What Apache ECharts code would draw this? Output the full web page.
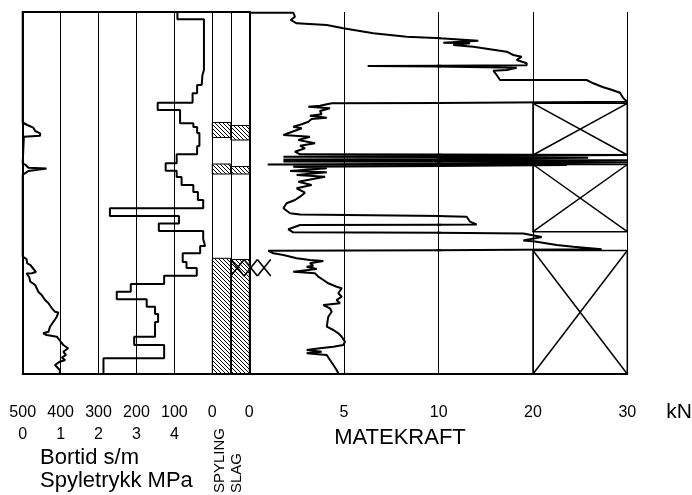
<!DOCTYPE html>
<html><head><meta charset="utf-8">
<script src="https://cdn.jsdelivr.net/npm/echarts@6/dist/echarts.min.js"></script>
<style>html,body{margin:0;padding:0;background:#fff}#c{width:692px;height:495px}</style>
</head><body><div id="c"></div>
<script>
// ---- data (depth in m, top = 0) ----
const bortidDepth = [0,0.73,5.8,6.3,7.3,8.13,9.07,9.8,11.13,11.5,12.1,13.4,14.23,15.13,15.87,16.5,17.3,18.0,18.8,19.63,20.4,21.15,21.9,22.7,23.4,24.13,25.0,25.6,26.37,27.2,27.97,28.73,29.47,30.2,31.0,32.47,33.3,34.63,36.2];
const bortidValue = [92,22,26,28,40,52,144,85,50,40,34,40,94,123,94,81,50,38,24,270,88,141,24,19,32,78,68,41,127,215,252,173,151,143,151,206,127,287];

const spyleDepth = [0,11.05,11.3,11.57,11.9,12.13,12.37,12.47,12.5,15.13,15.3,15.57,15.65,15.85,15.9,16.13,16.3,24.47,24.7,25.13,25.3,26.0,26.13,26.15,26.5,26.97,27.3,27.97,28.3,28.8,29.13,29.63,29.97,30.05,30.47,30.97,31.47,31.97,32.13,32.3,32.47,32.97,33.3,33.63,33.8,33.97,34.3,34.57,34.8,34.97,35.3,35.47,35.8,36.2];
const spyleValue = [0,0,0.12,0.28,0.33,0.46,0.46,0.03,0,0,0.08,0.15,0.63,0.63,0.15,0.06,0,0,0.1,0.12,0.2,0.35,0.24,0.1,0.17,0.2,0.33,0.41,0.5,0.59,0.68,0.77,0.85,0.94,0.9,0.81,0.72,0.68,0.54,0.63,0.9,1.0,1.07,1.2,1.25,1.07,1.14,1.03,1.12,0.98,0.85,0.81,0.98,0.98];

const forceDepth = [0.07,0.07,0.47,0.8,1.13,1.3,1.63,2.13,2.47,2.63,2.87,3.07,3.13,3.3,3.47,3.97,4.3,4.47,4.8,5.13,5.33,5.4,5.57,5.8,5.87,6.3,6.8,6.8,7.13,7.53,7.73,8.07,8.63,8.97,9.13,9.37,9.47,9.63,9.9,10.23,10.37,10.57,10.7,10.97,11.23,11.47,11.63,12.3,12.47,12.8,13.13,13.37,13.63,13.97,14.23,14.3,14.47,14.57,14.75,14.83,14.95,15.05,15.25,15.3,15.47,15.63,15.9,16.03,16.3,16.47,16.97,17.3,17.63,18.07,18.47,18.8,19.13,19.63,20.13,20.25,20.47,20.97,21.25,21.3,21.73,22.03,22.15,22.5,22.85,22.95,23.3,23.47,23.73,23.88,24.13,24.3,24.63,24.8,24.9,25.13,25.37,25.47,25.7,25.97,26.13,26.47,26.8,27.13,27.47,27.63,28.13,28.47,28.8,29.13,29.3,29.63,29.97,30.47,31.47,31.8,32.13,32.47,32.97,33.3,33.47,33.63,33.8,33.97,34.13,34.3,34.8,35.3,35.8,36.13];
const forceValue = [0,2.32,2.41,2.19,2.5,4.09,4.96,6.55,8.31,10.14,14.2,10.49,13.32,11.55,13.67,17.21,17.91,18.8,18.27,19.33,19.33,6.25,18.27,17.21,15.79,16.15,16.5,25.69,26.39,27.45,28.17,29.23,29.58,30,4.35,3.73,3.12,4.26,3.73,3.82,3.2,4.09,3.29,3.12,2.77,2.32,2.77,1.8,3.2,2.59,3.47,2.68,2.94,2.41,2.68,30,1.8,25.86,1.8,30,1.8,30,0.97,23.6,2.32,4.09,2.15,4.09,2.5,4.0,2.59,3.29,2.5,2.94,2.68,2.41,1.97,1.8,2.15,2.68,12.97,13.32,14.03,2.68,2.06,2.32,18.97,20.92,18.97,20.21,22.51,24.27,27.28,1.0,1.27,1.8,2.5,3.2,3.91,3.2,3.38,3.03,3.56,2.32,3.47,3.64,3.91,4.17,4.61,4.88,4.7,4.88,4.61,4.79,3.91,4.26,4.35,4.17,4.09,4.44,4.7,4.88,5.05,4.96,4.44,3.73,3.03,3.82,3.03,4.09,4.26,4.44,4.61,4.7];

const spylingTop = [11.05,15.2,24.63];
const spylingBottom = [12.55,16.2,36.2];
const slagTop = [11.35,15.45,24.75];
const slagBottom = [12.8,16.2,36.2];
const slagMarkTop = [24.75];
const slagMarkBottom = [26.4];
const crossTop = [9.13,15.25,23.85];
const crossBottom = [14.3,21.97,36.2];

const bortidTicks = [0,100,200,300,400,500];
const spyleTicks = [0,1,2,3,4];
const forceTicks = [0,5,10,20,30];

// ---- build ----
const DEPTH_MAX = 36.2;
const FONT = "'Liberation Sans', Arial, sans-serif";
const bortidData = [];
for (let i = 0; i < bortidValue.length; i++) {
  bortidData.push([bortidValue[i], bortidDepth[i]]);
  bortidData.push([bortidValue[i], bortidDepth[i + 1]]);
}
const spyleData = spyleValue.map((v, i) => [v, spyleDepth[i]]);
const forceData = forceValue.map((v, i) => [v, forceDepth[i]]);
const hatchData = [];
spylingTop.forEach((t, i) => hatchData.push([0, t, spylingBottom[i]]));
slagTop.forEach((t, i) => hatchData.push([1, t, slagBottom[i]]));
const crossData = crossTop.map((t, i) => [t, crossBottom[i]]);
const slagMarkData = slagMarkTop.map((t, i) => [t, slagMarkBottom[i]]);

function hatchCanvas() {
  const n = 4, c = document.createElement('canvas');
  c.width = n; c.height = n;
  const g = c.getContext('2d');
  g.strokeStyle = '#000'; g.lineWidth = 1;
  g.beginPath();
  g.moveTo(0, 0); g.lineTo(n, n);
  g.moveTo(-1, n - 1); g.lineTo(1, n + 1);
  g.moveTo(n - 1, -1); g.lineTo(n + 1, 1);
  g.stroke();
  return c;
}
const pat = { image: hatchCanvas(), repeat: 'repeat' };

const blk = '#000';
const lineAx = (w) => ({ show: true, onZero: false, lineStyle: { color: blk, width: w } });
const split = { show: true, lineStyle: { color: blk, width: 1 } };
const lbl = (margin, fmt) => ({ show: true, margin, color: blk, fontSize: 16, fontFamily: FONT, formatter: fmt });

const grids = [
  { left: 22.7, top: 12, width: 189.6, height: 362 },
  { left: 212.3, top: 12, width: 37, height: 362 },
  { left: 249.3, top: 12, width: 189.4, height: 362 },
  { left: 438.7, top: 12, width: 188.6, height: 362 }
];

const option = {
  animation: false,
  backgroundColor: '#fff',
  grid: grids,
  xAxis: [
    { gridIndex: 0, type: 'value', min: 0, max: 500, interval: 100, inverse: true, position: 'bottom',
      axisLine: lineAx(2), axisTick: { show: false }, splitLine: split,
      axisLabel: lbl(31, v => bortidTicks.includes(v) ? String(v) : '') },
    { gridIndex: 0, type: 'value', min: 0, max: 5, interval: 1, position: 'bottom',
      axisLine: { show: false, onZero: false }, axisTick: { show: false }, splitLine: { show: false },
      axisLabel: lbl(53, v => spyleTicks.includes(v) ? String(v) : '') },
    { gridIndex: 0, type: 'value', min: 0, max: 1, position: 'top',
      axisLine: lineAx(2), axisTick: { show: false }, splitLine: { show: false }, axisLabel: { show: false } },
    { gridIndex: 1, type: 'value', min: 0, max: 2, interval: 1, position: 'bottom',
      axisLine: lineAx(2), axisTick: { show: false }, splitLine: split, axisLabel: { show: false } },
    { gridIndex: 1, type: 'value', min: 0, max: 2, position: 'top',
      axisLine: lineAx(2), axisTick: { show: false }, splitLine: { show: false }, axisLabel: { show: false } },
    { gridIndex: 2, type: 'value', min: 0, max: 10, interval: 5, position: 'bottom',
      axisLine: lineAx(2), axisTick: { show: false }, splitLine: split,
      axisLabel: lbl(31, v => (v < 10 && forceTicks.includes(v)) ? String(v) : '') },
    { gridIndex: 3, type: 'value', min: 10, max: 30, interval: 10, position: 'bottom',
      axisLine: lineAx(2), axisTick: { show: false }, splitLine: split,
      axisLabel: lbl(31, v => forceTicks.includes(v) ? String(v) : '') }
  ],
  yAxis: [
    { gridIndex: 0, type: 'value', min: 0, max: DEPTH_MAX, inverse: true, axisLine: lineAx(2),
      axisTick: { show: false }, axisLabel: { show: false }, splitLine: { show: false } },
    { gridIndex: 1, type: 'value', min: 0, max: DEPTH_MAX, inverse: true, axisLine: { show: false, onZero: false },
      axisTick: { show: false }, axisLabel: { show: false }, splitLine: { show: false } },
    { gridIndex: 2, type: 'value', min: 0, max: DEPTH_MAX, inverse: true, axisLine: lineAx(2),
      axisTick: { show: false }, axisLabel: { show: false }, splitLine: { show: false } },
    { gridIndex: 3, type: 'value', min: 0, max: DEPTH_MAX, inverse: true, axisLine: { show: false, onZero: false },
      axisTick: { show: false }, axisLabel: { show: false }, splitLine: { show: false } }
  ],
  series: [
    { name: 'Bortid', type: 'line', xAxisIndex: 0, yAxisIndex: 0, data: bortidData, symbol: 'none',
      lineStyle: { color: blk, width: 2 }, clip: true, z: 5 },
    { name: 'Spyletrykk', type: 'line', xAxisIndex: 1, yAxisIndex: 0, data: spyleData, symbol: 'none',
      lineStyle: { color: blk, width: 2 }, clip: true, z: 5 },
    { name: 'Spyling/Slag', type: 'custom', xAxisIndex: 3, yAxisIndex: 1, data: hatchData, z: 4,
      renderItem: (p, api) => {
        const c = api.value(0), a = api.coord([c, api.value(1)]), b = api.coord([c + 1, api.value(2)]);
        return { type: 'rect', shape: { x: a[0], y: a[1], width: b[0] - a[0], height: b[1] - a[1] },
          style: { fill: pat, stroke: blk, lineWidth: 1 } };
      } },
    { name: 'Slag mark', type: 'custom', xAxisIndex: 3, yAxisIndex: 1, data: slagMarkData, clip: false, z: 6,
      renderItem: (p, api) => {
        const a = api.coord([1, api.value(0)]), b = api.coord([1, api.value(1)]);
        const w = 13.3, ch = [];
        for (let i = 0; i < 3; i++) {
          const x0 = a[0] + i * w;
          ch.push({ type: 'line', shape: { x1: x0, y1: a[1], x2: x0 + w, y2: b[1] }, style: { stroke: blk, lineWidth: 1.6 } });
          ch.push({ type: 'line', shape: { x1: x0, y1: b[1], x2: x0 + w, y2: a[1] }, style: { stroke: blk, lineWidth: 1.6 } });
        }
        return { type: 'group', children: ch };
      } },
    { name: 'Matekraft', type: 'line', xAxisIndex: 5, yAxisIndex: 2, data: forceData, symbol: 'none',
      lineStyle: { color: blk, width: 2 }, clip: true, z: 5 },
    { name: 'Matekraft ', type: 'line', xAxisIndex: 6, yAxisIndex: 3, data: forceData, symbol: 'none',
      lineStyle: { color: blk, width: 2 }, clip: true, z: 5 },
    { name: 'Boxes', type: 'custom', xAxisIndex: 6, yAxisIndex: 3, data: crossData, z: 4,
      renderItem: (p, api) => {
        const a = api.coord([20, api.value(0)]), b = api.coord([30, api.value(1)]);
        const st = { stroke: blk, lineWidth: 1.5, fill: null };
        return { type: 'group', children: [
          { type: 'rect', shape: { x: a[0], y: a[1], width: b[0] - a[0], height: b[1] - a[1] }, style: st },
          { type: 'line', shape: { x1: a[0], y1: a[1], x2: b[0], y2: b[1] }, style: st },
          { type: 'line', shape: { x1: a[0], y1: b[1], x2: b[0], y2: a[1] }, style: st }
        ] };
      } }
  ],
  graphic: [
    { type: 'text', x: 679, y: 412, style: { text: 'kN', fontSize: 21, fontFamily: FONT, fill: blk, align: 'center', verticalAlign: 'middle' } },
    { type: 'text', x: 400, y: 438, style: { text: 'MATEKRAFT', fontSize: 22, fontFamily: FONT, fill: blk, align: 'center', verticalAlign: 'middle' } },
    { type: 'text', x: 40, y: 458, style: { text: 'Bortid s/m', fontSize: 22, fontFamily: FONT, fill: blk, align: 'left', verticalAlign: 'middle' } },
    { type: 'text', x: 40, y: 481, style: { text: 'Spyletrykk MPa', fontSize: 22, fontFamily: FONT, fill: blk, align: 'left', verticalAlign: 'middle' } },
    { type: 'text', x: 220, y: 493, rotation: Math.PI / 2, style: { text: 'SPYLING', fontSize: 15, fontFamily: FONT, fill: blk, align: 'left', verticalAlign: 'middle' } },
    { type: 'text', x: 237, y: 493, rotation: Math.PI / 2, style: { text: 'SLAG', fontSize: 15, fontFamily: FONT, fill: blk, align: 'left', verticalAlign: 'middle' } }
  ]
};
const chart = echarts.init(document.getElementById('c'), null, { renderer: 'canvas' });
chart.setOption(option);
</script></body></html>
